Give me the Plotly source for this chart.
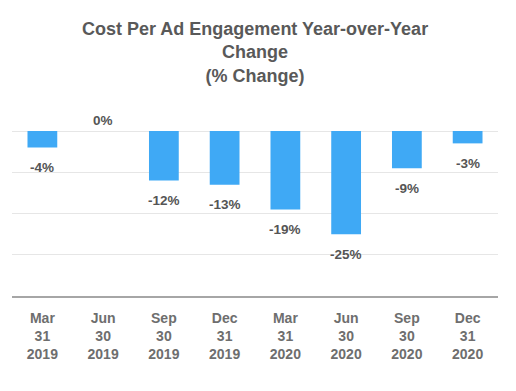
import plotly.graph_objects as go

categories = ["Mar<br>31<br>2019", "Jun<br>30<br>2019", "Sep<br>30<br>2019", "Dec<br>31<br>2019",
              "Mar<br>31<br>2020", "Jun<br>30<br>2020", "Sep<br>30<br>2020", "Dec<br>31<br>2020"]
values = [-4, 0, -12, -13, -19, -25, -9, -3]
labels = ["-4%", "0%", "-12%", "-13%", "-19%", "-25%", "-9%", "-3%"]
title_text = "Cost Per Ad Engagement Year-over-Year<br>Change<br>(% Change)"

FONT = "Liberation Sans, Arial, sans-serif"

fig = go.Figure()
fig.add_trace(go.Bar(x=categories, y=values, marker=dict(color="#3FA9F5", line=dict(width=0)),
                     hoverinfo="skip"))

for c, v, t in zip(categories, values, labels):
    fig.add_annotation(x=c, y=v, text="<b>%s</b>" % t, showarrow=False,
                       yanchor="middle", yshift=(-20 if v < 0 else 11),
                       font=dict(family=FONT, size=13.5, color="#555555"))

fig.add_annotation(xref="paper", yref="paper", x=0.5, y=1 + (123 - 9) / 165.0,
                   xanchor="center", yanchor="top", showarrow=False,
                   text="<b>%s</b>" % title_text,
                   font=dict(family=FONT, size=18, color="#595959"))

fig.update_layout(
    width=508, height=383,
    margin=dict(l=4, r=18, t=123, b=95, autoexpand=False),
    paper_bgcolor="white", plot_bgcolor="white",
    bargap=0.51,
    showlegend=False,
    xaxis=dict(showline=True, linecolor="#A6A6A6", linewidth=2, ticks="", automargin=False,
               ticklabelstandoff=8,
               tickfont=dict(family=FONT, size=14, color="#6E6E6E", weight="bold"), showgrid=False),
    yaxis=dict(range=[-40, 0], dtick=10, showticklabels=False, showgrid=True, automargin=False,
               gridcolor="#E6E6E6", gridwidth=1, zeroline=True, zerolinecolor="#E6E6E6",
               zerolinewidth=1, fixedrange=True),
)

fig.write_html("out.html")
